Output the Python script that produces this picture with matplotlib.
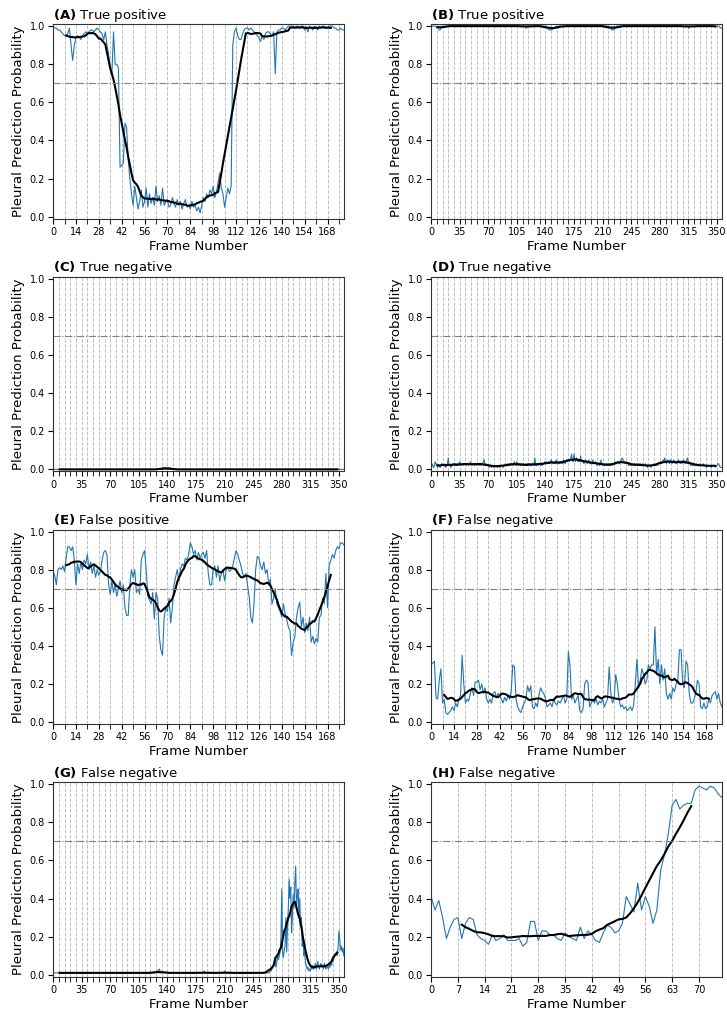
import matplotlib.pyplot as plt
import numpy as np
import pandas as pd
from matplotlib.ticker import MultipleLocator

# per-frame pleural prediction probability for each clip
prob_a = [
    1.00, 0.99, 0.99, 0.98, 0.98, 0.97, 0.96, 0.95, 0.95, 0.96,
    0.99, 0.90, 0.82, 0.90, 0.94, 0.95, 0.94, 0.93, 0.95, 0.96,
    0.97, 0.96, 0.97, 0.98, 0.98, 0.97, 0.98, 0.99, 0.98, 0.97,
    0.96, 0.93, 0.97, 0.90, 0.85, 0.78, 0.75, 0.97, 0.80, 0.80,
    0.78, 0.26, 0.27, 0.28, 0.49, 0.47, 0.30, 0.20, 0.12, 0.06,
    0.16, 0.10, 0.04, 0.08, 0.14, 0.05, 0.08, 0.15, 0.05, 0.12,
    0.07, 0.10, 0.06, 0.16, 0.08, 0.11, 0.06, 0.15, 0.06, 0.08,
    0.09, 0.05, 0.06, 0.10, 0.07, 0.05, 0.09, 0.06, 0.08, 0.04,
    0.07, 0.09, 0.05, 0.06, 0.04, 0.08, 0.05, 0.06, 0.03, 0.05,
    0.02, 0.06, 0.10, 0.08, 0.12, 0.10, 0.14, 0.12, 0.16, 0.10,
    0.13, 0.18, 0.23, 0.15, 0.12, 0.05, 0.10, 0.15, 0.12, 0.16,
    0.90, 0.97, 0.99, 0.95, 0.93, 0.93, 0.96, 0.98, 0.99, 0.99,
    0.98, 0.99, 0.98, 0.97, 0.96, 0.95, 0.94, 0.92, 0.95, 0.93,
    0.96, 0.97, 0.97, 0.96, 0.95, 0.97, 0.75, 0.97, 0.98, 0.98,
    0.99, 0.99, 0.98, 0.99, 1.00, 1.00, 1.00, 1.00, 0.99, 1.00,
    1.00, 0.99, 1.00, 1.00, 0.98, 0.99, 0.97, 1.00, 0.99, 0.98,
    1.00, 0.99, 0.98, 1.00, 0.99, 1.00, 1.00, 0.99, 0.99, 1.00,
    1.00, 1.00, 0.99, 0.99, 0.98, 0.98, 0.99, 0.98, 0.98,
]

prob_b = [
    1.00, 1.00, 1.00, 1.00, 1.00, 1.00, 1.00, 0.99, 0.99, 0.99,
    0.98, 0.98, 0.99, 0.99, 1.00, 1.00, 1.00, 1.00, 1.00, 1.00,
    1.00, 1.00, 1.00, 1.00, 1.00, 1.00, 1.00, 1.00, 1.00, 1.00,
    1.00, 1.00, 1.00, 1.00, 1.00, 1.00, 1.00, 1.00, 1.00, 1.00,
    1.00, 1.00, 1.00, 1.00, 1.00, 1.00, 1.00, 1.00, 1.00, 1.00,
    1.00, 1.00, 1.00, 1.00, 1.00, 1.00, 1.00, 1.00, 1.00, 1.00,
    1.00, 1.00, 1.00, 1.00, 1.00, 1.00, 1.00, 1.00, 1.00, 1.00,
    1.00, 1.00, 1.00, 1.00, 1.00, 1.00, 1.00, 1.00, 1.00, 1.00,
    1.00, 1.00, 1.00, 1.00, 1.00, 1.00, 1.00, 1.00, 1.00, 1.00,
    1.00, 1.00, 1.00, 1.00, 1.00, 1.00, 1.00, 1.00, 1.00, 1.00,
    1.00, 1.00, 1.00, 1.00, 1.00, 1.00, 1.00, 1.00, 1.00, 1.00,
    1.00, 1.00, 1.00, 1.00, 1.00, 1.00, 0.99, 0.99, 1.00, 1.00,
    1.00, 1.00, 1.00, 1.00, 1.00, 1.00, 1.00, 1.00, 1.00, 1.00,
    1.00, 1.00, 1.00, 1.00, 1.00, 1.00, 1.00, 1.00, 1.00, 1.00,
    1.00, 1.00, 0.99, 0.99, 0.98, 0.98, 0.98, 0.99, 0.98, 0.99,
    0.99, 0.99, 0.99, 1.00, 1.00, 0.99, 0.99, 1.00, 1.00, 1.00,
    1.00, 1.00, 1.00, 1.00, 1.00, 1.00, 1.00, 1.00, 1.00, 1.00,
    1.00, 1.00, 1.00, 1.00, 1.00, 1.00, 1.00, 1.00, 1.00, 1.00,
    1.00, 1.00, 1.00, 1.00, 1.00, 1.00, 1.00, 1.00, 1.00, 1.00,
    1.00, 1.00, 1.00, 1.00, 1.00, 1.00, 1.00, 1.00, 1.00, 1.00,
    1.00, 1.00, 1.00, 1.00, 1.00, 1.00, 1.00, 1.00, 1.00, 1.00,
    1.00, 1.00, 1.00, 1.00, 1.00, 1.00, 1.00, 1.00, 0.99, 0.99,
    0.99, 0.98, 0.98, 0.99, 0.98, 0.99, 0.99, 1.00, 1.00, 1.00,
    1.00, 1.00, 1.00, 1.00, 1.00, 1.00, 1.00, 1.00, 1.00, 1.00,
    1.00, 1.00, 1.00, 1.00, 1.00, 1.00, 1.00, 1.00, 1.00, 1.00,
    1.00, 1.00, 1.00, 1.00, 1.00, 1.00, 1.00, 1.00, 1.00, 1.00,
    1.00, 1.00, 1.00, 1.00, 1.00, 1.00, 1.00, 1.00, 1.00, 1.00,
    1.00, 1.00, 1.00, 1.00, 1.00, 1.00, 1.00, 1.00, 1.00, 1.00,
    1.00, 1.00, 1.00, 1.00, 1.00, 1.00, 1.00, 1.00, 1.00, 1.00,
    1.00, 1.00, 1.00, 1.00, 1.00, 1.00, 1.00, 1.00, 1.00, 1.00,
    1.00, 1.00, 1.00, 1.00, 1.00, 1.00, 1.00, 1.00, 1.00, 1.00,
    1.00, 1.00, 1.00, 1.00, 1.00, 0.99, 0.99, 1.00, 1.00, 1.00,
    1.00, 1.00, 1.00, 1.00, 1.00, 1.00, 1.00, 1.00, 1.00, 1.00,
    1.00, 1.00, 1.00, 1.00, 1.00, 1.00, 1.00, 1.00, 1.00, 1.00,
    1.00, 1.00, 1.00, 1.00, 1.00, 1.00, 1.00, 1.00, 1.00, 1.00,
    1.00, 1.00, 1.00, 1.00, 0.99, 0.99, 0.99,
]

prob_c = [
    0.00, 0.00, 0.00, 0.00, 0.00, 0.00, 0.00, 0.00, 0.00, 0.00,
    0.00, 0.00, 0.00, 0.00, 0.00, 0.00, 0.00, 0.00, 0.00, 0.00,
    0.00, 0.00, 0.00, 0.00, 0.00, 0.00, 0.00, 0.00, 0.00, 0.00,
    0.00, 0.00, 0.00, 0.00, 0.00, 0.00, 0.00, 0.00, 0.00, 0.00,
    0.00, 0.00, 0.00, 0.00, 0.00, 0.00, 0.00, 0.00, 0.00, 0.00,
    0.00, 0.00, 0.00, 0.00, 0.00, 0.00, 0.00, 0.00, 0.00, 0.00,
    0.00, 0.00, 0.00, 0.00, 0.00, 0.00, 0.00, 0.00, 0.00, 0.00,
    0.00, 0.00, 0.00, 0.00, 0.00, 0.00, 0.00, 0.00, 0.00, 0.00,
    0.00, 0.00, 0.00, 0.00, 0.00, 0.00, 0.00, 0.00, 0.00, 0.00,
    0.00, 0.00, 0.00, 0.00, 0.00, 0.00, 0.00, 0.00, 0.00, 0.00,
    0.00, 0.00, 0.00, 0.00, 0.00, 0.00, 0.00, 0.00, 0.00, 0.00,
    0.00, 0.00, 0.00, 0.00, 0.00, 0.00, 0.00, 0.00, 0.00, 0.00,
    0.00, 0.00, 0.00, 0.00, 0.00, 0.00, 0.00, 0.00, 0.00, 0.00,
    0.00, 0.00, 0.00, 0.00, 0.01, 0.00, 0.01, 0.01, 0.01, 0.00,
    0.01, 0.01, 0.00, 0.01, 0.00, 0.00, 0.00, 0.00, 0.00, 0.00,
    0.00, 0.00, 0.00, 0.00, 0.00, 0.00, 0.00, 0.00, 0.00, 0.00,
    0.00, 0.00, 0.00, 0.00, 0.00, 0.00, 0.00, 0.00, 0.00, 0.00,
    0.00, 0.00, 0.00, 0.00, 0.00, 0.00, 0.00, 0.00, 0.00, 0.00,
    0.00, 0.00, 0.00, 0.00, 0.00, 0.00, 0.00, 0.00, 0.00, 0.00,
    0.00, 0.00, 0.00, 0.00, 0.00, 0.00, 0.00, 0.00, 0.00, 0.00,
    0.00, 0.00, 0.00, 0.00, 0.00, 0.00, 0.00, 0.00, 0.00, 0.00,
    0.00, 0.00, 0.00, 0.00, 0.00, 0.00, 0.00, 0.00, 0.00, 0.00,
    0.00, 0.00, 0.00, 0.00, 0.00, 0.00, 0.00, 0.00, 0.00, 0.00,
    0.00, 0.00, 0.00, 0.00, 0.00, 0.00, 0.00, 0.00, 0.00, 0.00,
    0.00, 0.00, 0.00, 0.00, 0.00, 0.00, 0.00, 0.00, 0.00, 0.00,
    0.00, 0.00, 0.00, 0.00, 0.00, 0.00, 0.00, 0.00, 0.00, 0.00,
    0.00, 0.00, 0.00, 0.00, 0.00, 0.00, 0.00, 0.00, 0.00, 0.00,
    0.00, 0.00, 0.00, 0.00, 0.00, 0.00, 0.00, 0.00, 0.00, 0.00,
    0.00, 0.00, 0.00, 0.00, 0.00, 0.00, 0.00, 0.00, 0.00, 0.00,
    0.00, 0.00, 0.00, 0.00, 0.00, 0.00, 0.00, 0.00, 0.00, 0.00,
    0.00, 0.00, 0.00, 0.00, 0.00, 0.00, 0.00, 0.00, 0.00, 0.00,
    0.00, 0.00, 0.00, 0.00, 0.00, 0.00, 0.00, 0.00, 0.00, 0.00,
    0.00, 0.00, 0.00, 0.00, 0.00, 0.00, 0.00, 0.00, 0.00, 0.00,
    0.00, 0.00, 0.00, 0.00, 0.00, 0.00, 0.00, 0.00, 0.00, 0.00,
    0.00, 0.00, 0.00, 0.00, 0.00, 0.00, 0.00, 0.00, 0.00, 0.00,
    0.00, 0.00, 0.00, 0.00, 0.00, 0.00, 0.00,
]

prob_d = [
    0.02, 0.03, 0.02, 0.01, 0.02, 0.04, 0.03, 0.02, 0.01, 0.02,
    0.02, 0.01, 0.02, 0.03, 0.02, 0.02, 0.03, 0.02, 0.01, 0.02,
    0.03, 0.06, 0.02, 0.02, 0.01, 0.02, 0.02, 0.03, 0.02, 0.02,
    0.03, 0.02, 0.03, 0.02, 0.03, 0.04, 0.03, 0.02, 0.03, 0.03,
    0.02, 0.03, 0.03, 0.02, 0.03, 0.03, 0.02, 0.03, 0.04, 0.03,
    0.02, 0.03, 0.03, 0.02, 0.03, 0.03, 0.02, 0.03, 0.03, 0.02,
    0.03, 0.02, 0.03, 0.03, 0.04, 0.05, 0.02, 0.03, 0.02, 0.02,
    0.02, 0.01, 0.02, 0.02, 0.01, 0.02, 0.02, 0.01, 0.02, 0.02,
    0.02, 0.01, 0.02, 0.02, 0.01, 0.02, 0.02, 0.02, 0.01, 0.02,
    0.02, 0.03, 0.02, 0.02, 0.03, 0.02, 0.03, 0.02, 0.03, 0.03,
    0.02, 0.03, 0.04, 0.03, 0.02, 0.04, 0.03, 0.02, 0.03, 0.02,
    0.02, 0.03, 0.02, 0.03, 0.02, 0.02, 0.03, 0.02, 0.03, 0.02,
    0.02, 0.03, 0.02, 0.02, 0.03, 0.02, 0.03, 0.06, 0.02, 0.02,
    0.03, 0.02, 0.03, 0.03, 0.02, 0.03, 0.02, 0.03, 0.03, 0.04,
    0.03, 0.04, 0.03, 0.03, 0.04, 0.03, 0.04, 0.05, 0.04, 0.03,
    0.04, 0.03, 0.03, 0.05, 0.03, 0.04, 0.03, 0.03, 0.04, 0.03,
    0.04, 0.03, 0.05, 0.04, 0.03, 0.04, 0.05, 0.04, 0.05, 0.04,
    0.05, 0.06, 0.08, 0.05, 0.04, 0.08, 0.05, 0.04, 0.06, 0.05,
    0.04, 0.05, 0.04, 0.07, 0.04, 0.05, 0.04, 0.03, 0.04, 0.05,
    0.04, 0.03, 0.04, 0.05, 0.03, 0.04, 0.03, 0.03, 0.05, 0.03,
    0.03, 0.04, 0.03, 0.02, 0.03, 0.03, 0.02, 0.03, 0.05, 0.03,
    0.02, 0.03, 0.02, 0.02, 0.03, 0.02, 0.02, 0.03, 0.02, 0.02,
    0.02, 0.03, 0.02, 0.03, 0.03, 0.04, 0.03, 0.03, 0.04, 0.03,
    0.04, 0.03, 0.04, 0.05, 0.06, 0.05, 0.04, 0.04, 0.03, 0.04,
    0.03, 0.03, 0.02, 0.03, 0.02, 0.03, 0.02, 0.03, 0.02, 0.03,
    0.02, 0.03, 0.02, 0.02, 0.03, 0.02, 0.03, 0.02, 0.02, 0.03,
    0.02, 0.02, 0.03, 0.02, 0.02, 0.01, 0.02, 0.02, 0.02, 0.01,
    0.02, 0.02, 0.02, 0.03, 0.02, 0.02, 0.03, 0.02, 0.03, 0.03,
    0.03, 0.04, 0.03, 0.04, 0.05, 0.04, 0.06, 0.04, 0.03, 0.04,
    0.05, 0.04, 0.03, 0.05, 0.04, 0.03, 0.04, 0.05, 0.04, 0.03,
    0.04, 0.03, 0.04, 0.05, 0.04, 0.03, 0.04, 0.03, 0.04, 0.05,
    0.04, 0.03, 0.04, 0.05, 0.06, 0.03, 0.04, 0.03, 0.02, 0.03,
    0.02, 0.02, 0.03, 0.02, 0.02, 0.03, 0.02, 0.02, 0.02, 0.03,
    0.02, 0.02, 0.02, 0.03, 0.02, 0.02, 0.02, 0.01, 0.02, 0.02,
    0.02, 0.02, 0.02, 0.01, 0.02, 0.02, 0.02, 0.02, 0.01, 0.02,
    0.02, 0.03, 0.03, 0.02, 0.01, 0.01, 0.01,
]

prob_e = [
    0.79, 0.77, 0.72, 0.80, 0.81, 0.80, 0.82, 0.79, 0.86, 0.92,
    0.92, 0.90, 0.92, 0.85, 0.72, 0.83, 0.78, 0.84, 0.80, 0.85,
    0.83, 0.88, 0.80, 0.84, 0.78, 0.82, 0.76, 0.80, 0.77, 0.79,
    0.85, 0.89, 0.90, 0.88, 0.72, 0.67, 0.74, 0.68, 0.72, 0.66,
    0.70, 0.74, 0.68, 0.72, 0.60, 0.56, 0.56, 0.72, 0.80, 0.76,
    0.80, 0.68, 0.70, 0.67, 0.85, 0.88, 0.90, 0.80, 0.66, 0.64,
    0.62, 0.68, 0.54, 0.68, 0.65, 0.45, 0.38, 0.35, 0.55, 0.60,
    0.58, 0.65, 0.52, 0.60, 0.72, 0.76, 0.80, 0.74, 0.80, 0.83,
    0.82, 0.86, 0.85, 0.88, 0.94, 0.92, 0.88, 0.90, 0.85, 0.89,
    0.86, 0.88, 0.89, 0.86, 0.90, 0.78, 0.72, 0.72, 0.80, 0.82,
    0.76, 0.82, 0.74, 0.78, 0.80, 0.74, 0.80, 0.81, 0.79, 0.80,
    0.82, 0.86, 0.90, 0.88, 0.85, 0.82, 0.78, 0.76, 0.78, 0.72,
    0.66, 0.55, 0.52, 0.62, 0.80, 0.87, 0.86, 0.82, 0.80, 0.84,
    0.78, 0.80, 0.72, 0.75, 0.62, 0.65, 0.70, 0.62, 0.60, 0.58,
    0.55, 0.62, 0.57, 0.54, 0.50, 0.48, 0.35, 0.42, 0.45, 0.55,
    0.60, 0.63, 0.50, 0.55, 0.47, 0.52, 0.48, 0.55, 0.42, 0.45,
    0.41, 0.44, 0.42, 0.55, 0.56, 0.65, 0.62, 0.78, 0.60, 0.82,
    0.85, 0.88, 0.86, 0.90, 0.92, 0.91, 0.94, 0.94, 0.93,
]

prob_f = [
    0.30, 0.31, 0.32, 0.13, 0.12, 0.22, 0.28, 0.10, 0.12, 0.05,
    0.04, 0.05, 0.06, 0.08, 0.06, 0.10, 0.08, 0.12, 0.14, 0.35,
    0.20, 0.10, 0.12, 0.11, 0.15, 0.18, 0.14, 0.21, 0.21, 0.22,
    0.17, 0.20, 0.15, 0.18, 0.12, 0.10, 0.12, 0.10, 0.15, 0.16,
    0.13, 0.15, 0.14, 0.12, 0.10, 0.13, 0.11, 0.14, 0.12, 0.16,
    0.30, 0.29, 0.12, 0.08, 0.06, 0.05, 0.08, 0.10, 0.12, 0.19,
    0.16, 0.19, 0.08, 0.07, 0.10, 0.08, 0.14, 0.18, 0.16, 0.15,
    0.12, 0.08, 0.09, 0.10, 0.08, 0.12, 0.10, 0.09, 0.11, 0.10,
    0.12, 0.14, 0.10, 0.12, 0.37, 0.30, 0.12, 0.14, 0.10, 0.12,
    0.14, 0.06, 0.05, 0.07, 0.20, 0.22, 0.21, 0.08, 0.10, 0.12,
    0.10, 0.12, 0.09, 0.11, 0.10, 0.12, 0.08, 0.10, 0.12, 0.29,
    0.15, 0.10, 0.12, 0.25, 0.20, 0.12, 0.08, 0.09, 0.07, 0.08,
    0.06, 0.07, 0.08, 0.06, 0.09, 0.20, 0.33, 0.18, 0.22, 0.28,
    0.25, 0.20, 0.22, 0.30, 0.28, 0.30, 0.30, 0.50, 0.25, 0.33,
    0.20, 0.30, 0.22, 0.28, 0.15, 0.12, 0.15, 0.12, 0.18, 0.16,
    0.20, 0.22, 0.38, 0.38, 0.20, 0.18, 0.32, 0.30, 0.15, 0.10,
    0.10, 0.12, 0.15, 0.22, 0.20, 0.08, 0.07, 0.10, 0.07, 0.08,
    0.12, 0.10, 0.14, 0.15, 0.16, 0.12, 0.15, 0.10, 0.08,
]

prob_g = [
    0.01, 0.01, 0.01, 0.01, 0.01, 0.01, 0.01, 0.01, 0.01, 0.01,
    0.01, 0.01, 0.01, 0.01, 0.01, 0.01, 0.01, 0.01, 0.01, 0.01,
    0.01, 0.01, 0.01, 0.01, 0.01, 0.01, 0.01, 0.01, 0.01, 0.01,
    0.01, 0.01, 0.01, 0.01, 0.01, 0.01, 0.01, 0.01, 0.01, 0.01,
    0.01, 0.01, 0.01, 0.01, 0.01, 0.01, 0.01, 0.01, 0.01, 0.01,
    0.01, 0.01, 0.01, 0.01, 0.01, 0.01, 0.01, 0.01, 0.01, 0.01,
    0.01, 0.01, 0.01, 0.01, 0.01, 0.01, 0.01, 0.01, 0.01, 0.01,
    0.01, 0.01, 0.01, 0.01, 0.01, 0.01, 0.01, 0.01, 0.01, 0.01,
    0.01, 0.01, 0.01, 0.01, 0.01, 0.01, 0.01, 0.01, 0.01, 0.01,
    0.01, 0.01, 0.01, 0.01, 0.01, 0.01, 0.01, 0.01, 0.01, 0.01,
    0.01, 0.01, 0.01, 0.01, 0.01, 0.01, 0.01, 0.01, 0.01, 0.01,
    0.01, 0.01, 0.01, 0.01, 0.01, 0.01, 0.01, 0.01, 0.01, 0.01,
    0.01, 0.01, 0.01, 0.01, 0.01, 0.01, 0.01, 0.02, 0.02, 0.02,
    0.03, 0.02, 0.01, 0.01, 0.01, 0.01, 0.01, 0.01, 0.01, 0.01,
    0.01, 0.01, 0.01, 0.01, 0.01, 0.01, 0.01, 0.01, 0.01, 0.01,
    0.01, 0.01, 0.01, 0.01, 0.01, 0.01, 0.01, 0.01, 0.01, 0.01,
    0.01, 0.01, 0.01, 0.01, 0.01, 0.01, 0.01, 0.01, 0.01, 0.01,
    0.01, 0.01, 0.01, 0.01, 0.01, 0.01, 0.01, 0.01, 0.01, 0.01,
    0.01, 0.01, 0.01, 0.01, 0.01, 0.02, 0.01, 0.01, 0.01, 0.01,
    0.01, 0.01, 0.01, 0.01, 0.01, 0.01, 0.01, 0.01, 0.01, 0.01,
    0.01, 0.01, 0.01, 0.01, 0.01, 0.01, 0.01, 0.01, 0.01, 0.01,
    0.02, 0.01, 0.01, 0.01, 0.01, 0.01, 0.01, 0.01, 0.01, 0.01,
    0.01, 0.01, 0.01, 0.01, 0.01, 0.01, 0.01, 0.01, 0.01, 0.01,
    0.01, 0.01, 0.01, 0.01, 0.01, 0.01, 0.01, 0.01, 0.01, 0.01,
    0.01, 0.01, 0.01, 0.01, 0.01, 0.01, 0.01, 0.01, 0.01, 0.01,
    0.01, 0.01, 0.01, 0.01, 0.01, 0.01, 0.01, 0.01, 0.01, 0.01,
    0.01, 0.01, 0.01, 0.01, 0.01, 0.01, 0.02, 0.02, 0.03, 0.04,
    0.06, 0.08, 0.05, 0.04, 0.07, 0.10, 0.08, 0.10, 0.12, 0.20,
    0.45, 0.12, 0.09, 0.13, 0.15, 0.30, 0.12, 0.25, 0.35, 0.50,
    0.40, 0.46, 0.22, 0.30, 0.42, 0.35, 0.48, 0.57, 0.35, 0.42,
    0.45, 0.30, 0.40, 0.25, 0.30, 0.15, 0.20, 0.10, 0.12, 0.06,
    0.05, 0.03, 0.04, 0.02, 0.03, 0.02, 0.04, 0.03, 0.05, 0.03,
    0.04, 0.06, 0.03, 0.05, 0.07, 0.04, 0.03, 0.05, 0.06, 0.04,
    0.05, 0.03, 0.06, 0.04, 0.03, 0.05, 0.04, 0.03, 0.05, 0.04,
    0.06, 0.05, 0.08, 0.07, 0.09, 0.11, 0.10, 0.12, 0.10, 0.15,
    0.23, 0.18, 0.13, 0.15, 0.12, 0.14, 0.10,
]

prob_h = [
    0.41, 0.34, 0.39, 0.30, 0.19, 0.25, 0.29, 0.30, 0.19, 0.27,
    0.30, 0.29, 0.21, 0.19, 0.18, 0.16, 0.21, 0.18, 0.19, 0.21,
    0.18, 0.18, 0.18, 0.19, 0.15, 0.17, 0.28, 0.28, 0.18, 0.23,
    0.23, 0.21, 0.21, 0.19, 0.18, 0.22, 0.20, 0.19, 0.18, 0.25,
    0.19, 0.23, 0.21, 0.18, 0.17, 0.22, 0.26, 0.25, 0.22, 0.23,
    0.27, 0.41, 0.37, 0.33, 0.48, 0.34, 0.41, 0.36, 0.27, 0.34,
    0.55, 0.63, 0.74, 0.89, 0.92, 0.87, 0.89, 0.90, 0.90, 0.97,
    0.99, 0.98, 0.97, 0.99, 0.98, 0.95, 0.93,
]

panel_tags = ["(A)", "(B)", "(C)", "(D)", "(E)", "(F)", "(G)", "(H)"]
panel_titles = ["True positive", "True positive", "True negative", "True negative",
                "False positive", "False negative", "False negative", "False negative"]
panel_probs = [prob_a, prob_b, prob_c, prob_d, prob_e, prob_f, prob_g, prob_h]
label_steps = [14, 35, 35, 35, 14, 14, 35, 7]

threshold = 0.7
window = 17  # frames in the moving average


def moving_average(values, size):
    return pd.Series(values).rolling(size, center=True).mean()


fig, axes = plt.subplots(4, 2, figsize=(7.27, 10.1), dpi=100)
fig.subplots_adjust(left=0.073, right=0.993, top=0.976, bottom=0.033,
                    wspace=0.3, hspace=0.3)

for ax, tag, title, probs, step in zip(axes.flat, panel_tags, panel_titles,
                                       panel_probs, label_steps):
    frames = np.arange(len(probs))
    ax.plot(frames, probs, color='#1f77b4', linewidth=0.8)
    ax.plot(frames, moving_average(probs, window), color='black', linewidth=1.5)
    ax.axhline(threshold, color='gray', linestyle='-.', linewidth=0.8)

    ax.set_xlim(0, len(probs) - 1)
    ax.set_ylim(-0.01, 1.01)
    ax.set_yticks([0.0, 0.2, 0.4, 0.6, 0.8, 1.0])
    ax.xaxis.set_major_locator(MultipleLocator(step))
    ax.xaxis.set_minor_locator(MultipleLocator(7))
    ax.grid(axis='x', which='both', linestyle='--', color='gray',
            linewidth=0.7, alpha=0.5)
    ax.tick_params(which='both', labelsize=7, length=3.5, pad=2.5)
    for spine in ax.spines.values():
        spine.set_edgecolor('#333333')

    ax.set_xlabel('Frame Number', fontsize=9.5, labelpad=2)
    ax.set_ylabel('Pleural Prediction Probability', fontsize=9.5, labelpad=3)
    ax.set_title(r'$\bf{' + tag + '}$ ' + title, loc='left', fontsize=9.5, pad=4)

fig.savefig('out.png', dpi=100)
